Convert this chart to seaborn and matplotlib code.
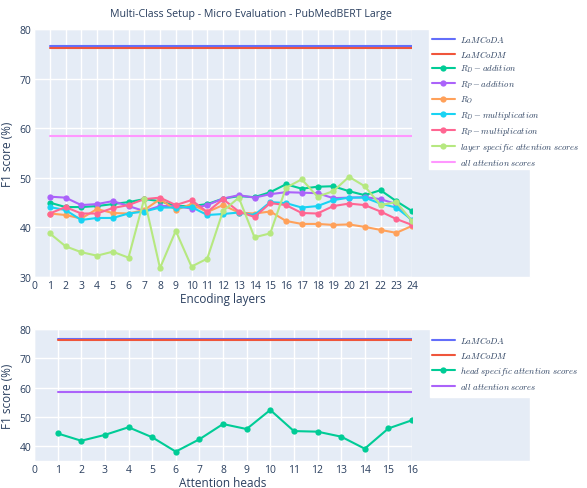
import matplotlib
matplotlib.use("Agg")
import matplotlib.pyplot as plt
from matplotlib.patches import Rectangle
import seaborn as sns

# top panel: encoding layers
layers = list(range(1, 25))
lamcoda_top = 76.5
lamcodm_top = 76.2
all_attn_top = 58.4
rd_add = [45.0, 44.1, 44.1, 44.3, 44.7, 45.1, 45.7, 45.3, 44.3, 44.3, 44.7, 45.8,
          46.3, 46.1, 47.1, 48.7, 47.8, 48.2, 48.3, 47.3, 46.5, 47.5, 45.3, 43.3]
rp_add = [46.2, 46.0, 44.5, 44.7, 45.3, 44.3, 43.3, 44.3, 44.3, 43.8, 44.5, 45.8,
          46.5, 46.0, 46.7, 47.1, 47.0, 46.9, 45.9, 46.0, 46.1, 45.7, 44.7, 41.3]
r_o = [42.8, 42.5, 41.8, 43.7, 42.9, 42.8, 43.5, 45.7, 43.5, 44.7, 43.1, 44.5,
       43.0, 42.8, 43.2, 41.3, 40.7, 40.7, 40.5, 40.6, 40.1, 39.5, 38.9, 40.3]
rd_mul = [44.1, 43.5, 41.5, 41.9, 41.9, 42.8, 43.2, 44.0, 44.0, 44.1, 42.5, 42.7,
          43.0, 42.5, 45.1, 44.9, 44.0, 44.3, 45.5, 46.0, 46.0, 44.8, 44.0, 41.5]
rp_mul = [42.8, 44.1, 42.8, 42.8, 43.9, 44.5, 45.7, 46.0, 44.5, 45.5, 43.1, 45.7,
          43.2, 42.1, 44.9, 44.5, 42.9, 42.8, 44.3, 44.8, 44.5, 43.2, 41.7, 40.5]
layer_attn = [38.8, 36.2, 35.0, 34.3, 35.1, 33.9, 45.8, 31.8, 39.3, 32.1, 33.7, 43.3,
              46.0, 38.0, 38.8, 48.0, 49.7, 46.2, 47.3, 50.2, 48.3, 44.5, 45.1, 41.3]

# bottom panel: attention heads
heads = list(range(1, 17))
lamcoda_bot = 76.6
lamcodm_bot = 76.1
all_attn_bot = 58.5
head_attn = [44.4, 41.9, 43.9, 46.5, 43.1, 38.2, 42.4, 47.6, 45.9, 52.4, 45.2, 45.0,
             43.3, 39.2, 46.1, 48.9]

sns.set_theme(style="darkgrid")
plt.rcParams["font.family"] = ["Open Sans", "DejaVu Sans"]
plt.rcParams["mathtext.fontset"] = "cm"

BG = "#E5ECF6"
TXT = "#2a3f5f"
W, H = 587, 489

fig = plt.figure(figsize=(W / 100, H / 100), dpi=100)
fig.patch.set_facecolor("white")


def fx(px):
    return px / W


def fy(py):
    return 1 - py / H


# plot backgrounds (wider than the axes, as in the original)
fig.patches.append(Rectangle((fx(34), fy(278)), fx(530 - 34), (278 - 30) / H,
                             transform=fig.transFigure, facecolor=BG, zorder=-3))
fig.patches.append(Rectangle((fx(34), fy(462)), fx(530 - 34), (462 - 330) / H,
                             transform=fig.transFigure, facecolor=BG, zorder=-3))
# white legend boxes
fig.patches.append(Rectangle((fx(429), fy(170)), fx(530 - 429), (170 - 25) / H,
                             transform=fig.transFigure, facecolor="white", zorder=-2))
fig.patches.append(Rectangle((fx(430), fy(398)), fx(530 - 430), (398 - 330) / H,
                             transform=fig.transFigure, facecolor="white", zorder=-2))

ax1 = fig.add_axes([fx(34), fy(278), fx(412 - 34), (278 - 30) / H])
ax2 = fig.add_axes([fx(34), fy(462), fx(412 - 34), (462 - 330) / H])

lw = 1.5
ms = 4.5


def const_line(ax, xs, val, color, label):
    sns.lineplot(x=[xs[0], xs[-1]], y=[val, val], ax=ax, color=color,
                 linewidth=lw, label=label)


def series(ax, xs, ys, color, label):
    sns.lineplot(x=xs, y=ys, ax=ax, color=color, linewidth=lw, marker="o",
                 markersize=ms, markeredgewidth=0, label=label)


const_line(ax1, layers, lamcoda_top, "#636efa", r"$LaMCoDA$")
const_line(ax1, layers, lamcodm_top, "#EF553B", r"$LaMCoDM$")
series(ax1, layers, rd_add, "#00cc96", r"$R_D - addition$")
series(ax1, layers, rp_add, "#ab63fa", r"$R_P - addition$")
series(ax1, layers, r_o, "#FFA15A", r"$R_O$")
series(ax1, layers, rd_mul, "#19d3f3", r"$R_D - multiplication$")
series(ax1, layers, rp_mul, "#FF6692", r"$R_P - multiplication$")
series(ax1, layers, layer_attn, "#B6E880", r"$layer\ specific\ attention\ scores$")
const_line(ax1, layers, all_attn_top, "#FF97FF", r"$all\ attention\ scores$")

const_line(ax2, heads, lamcoda_bot, "#636efa", r"$LaMCoDA$")
const_line(ax2, heads, lamcodm_bot, "#EF553B", r"$LaMCoDM$")
series(ax2, heads, head_attn, "#00cc96", r"$head\ specific\ attention\ scores$")
const_line(ax2, heads, all_attn_bot, "#ab63fa", r"$all\ attention\ scores$")

for ax, xs, ylim, xlabel in [(ax1, layers, (30, 80), "Encoding layers"),
                             (ax2, heads, (35, 80), "Attention heads")]:
    ax.set_facecolor("none")
    ax.set_xlim(0, xs[-1])
    ax.set_ylim(*ylim)
    ax.set_xticks([0] + xs)
    ax.set_yticks(range(40 if ylim[0] == 35 else 30, 81, 10))
    ax.grid(True, color="white", linewidth=1)
    for s in ax.spines.values():
        s.set_visible(False)
    ax.tick_params(axis="both", length=0, labelsize=7.5, labelcolor=TXT, pad=2)
    ax.set_xlabel(xlabel, fontsize=8.5, color=TXT, labelpad=1)
    ax.set_ylabel("F1 score (%)", fontsize=8.5, color=TXT, labelpad=4)

for ax, top in [(ax1, 34), (ax2, 335)]:
    ax.legend(loc="upper left", bbox_to_anchor=(fx(432), fy(top)),
              bbox_transform=fig.transFigure, frameon=False, borderaxespad=0,
              borderpad=0, fontsize=6.3, handlelength=2.6, handletextpad=0.55,
              labelspacing=0.45, labelcolor=TXT)

fig.text(fx(251), fy(14), "Multi-Class Setup - Micro Evaluation - PubMedBERT Large",
         ha="center", va="center", fontsize=7.7, color=TXT)

fig.savefig("out.png", dpi=100)
